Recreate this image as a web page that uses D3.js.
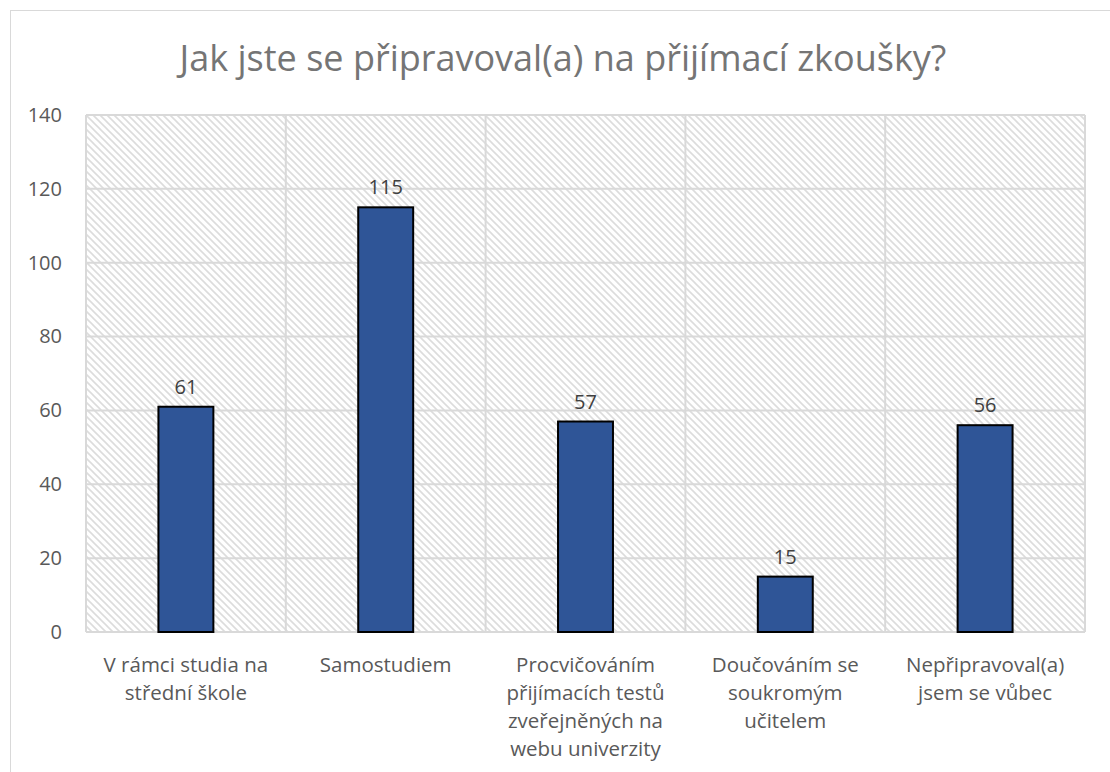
<!DOCTYPE html>
<html>
<head>
<meta charset="utf-8">
<script src="https://cdn.jsdelivr.net/npm/d3@7"></script>
<style>
  body { margin: 0; background: #fff; }
  svg { display: block; font-family: "Open Sans", sans-serif; }
</style>
</head>
<body>
<div id="chart"></div>
<script>
// data
const categories = [
  ["V rámci studia na", "střední škole"],
  ["Samostudiem"],
  ["Procvičováním", "přijímacích testů", "zveřejněných na", "webu univerzity"],
  ["Doučováním se", "soukromým", "učitelem"],
  ["Nepřipravoval(a)", "jsem se vůbec"]
];
const values = [61, 115, 57, 15, 56];
const yTicks = [0, 20, 40, 60, 80, 100, 120, 140];
const title = "Jak jste se připravoval(a) na přijímací zkoušky?";

const W = 1110, H = 772;
const margin = { top: 115, right: 25, bottom: 140, left: 86 },
      width = W - margin.left - margin.right,
      height = H - margin.top - margin.bottom;

const svg = d3.select("#chart").append("svg")
  .attr("width", W)
  .attr("height", H);

// hatch pattern
const defs = svg.append("defs");
defs.append("pattern")
  .attr("id", "hatch")
  .attr("patternUnits", "userSpaceOnUse")
  .attr("width", 7).attr("height", 7)
  .call(p => {
    p.append("rect").attr("width", 7).attr("height", 7).attr("fill", "#fff");
    p.append("path")
      .attr("d", "M-1,-1 L8,8 M-8,-1 L1,8 M6,-1 L15,8")
      .attr("stroke", "#dcdcdc")
      .attr("stroke-width", 1.6);
  });

// outer chart border
svg.append("rect")
  .attr("x", 10.5).attr("y", 10.5)
  .attr("width", W + 20).attr("height", H + 20)
  .attr("fill", "none")
  .attr("stroke", "#d9d9d9")
  .attr("stroke-width", 1);

const g = svg.append("g")
  .attr("transform", `translate(${margin.left},${margin.top})`);

const x = d3.scaleBand().domain(d3.range(categories.length)).range([0, width]);
const y = d3.scaleLinear().domain([0, 140]).range([height, 0]);

g.append("rect")
  .attr("width", width).attr("height", height)
  .attr("fill", "url(#hatch)");

// horizontal grid
g.append("g")
  .selectAll("line")
  .data(yTicks)
  .enter().append("line")
  .attr("x1", 0).attr("x2", width)
  .attr("y1", d => y(d)).attr("y2", d => y(d))
  .attr("stroke", "#d9d9d9")
  .attr("stroke-width", 2);

// vertical grid at category boundaries
g.append("g")
  .selectAll("line")
  .data(d3.range(categories.length + 1))
  .enter().append("line")
  .attr("x1", d => d * x.step()).attr("x2", d => d * x.step())
  .attr("y1", 0).attr("y2", height)
  .attr("stroke", "#d9d9d9")
  .attr("stroke-width", 2);

// y axis labels
const yAxis = g.append("g")
  .call(d3.axisLeft(y).tickValues(yTicks).tickSize(0).tickPadding(24));
yAxis.select(".domain").remove();
yAxis.selectAll("text")
  .style("font-size", "20px")
  .style("fill", "#595959")
  .style("font-family", "'Open Sans', sans-serif");

// bars
const barW = x.bandwidth() * 0.275;
g.selectAll("rect.bar")
  .data(values)
  .enter().append("rect")
  .attr("class", "bar")
  .attr("x", (d, i) => x(i) + x.bandwidth() / 2 - barW / 2)
  .attr("y", d => y(d))
  .attr("width", barW)
  .attr("height", d => height - y(d))
  .attr("fill", "#2f5597")
  .attr("stroke", "#000")
  .attr("stroke-width", 2);

// value labels
g.selectAll("text.val")
  .data(values)
  .enter().append("text")
  .attr("class", "val")
  .attr("x", (d, i) => x(i) + x.bandwidth() / 2)
  .attr("y", d => y(d) - 13)
  .attr("text-anchor", "middle")
  .style("font-size", "20px")
  .style("fill", "#404040")
  .text(d => d);

// category labels
const xLab = g.selectAll("text.cat")
  .data(categories)
  .enter().append("text")
  .attr("class", "cat")
  .attr("x", (d, i) => x(i) + x.bandwidth() / 2)
  .attr("y", height + 40)
  .attr("text-anchor", "middle")
  .style("font-size", "20.5px")
  .style("fill", "#595959");
xLab.each(function(d, i) {
  d3.select(this).selectAll("tspan")
    .data(d)
    .enter().append("tspan")
    .attr("x", x(i) + x.bandwidth() / 2)
    .attr("dy", (t, j) => j === 0 ? 0 : 28)
    .text(t => t);
});

// title
svg.append("text")
  .attr("x", 563)
  .attr("y", 71)
  .attr("text-anchor", "middle")
  .style("font-size", "36px")
  .style("fill", "#757575")
  .text(title);
</script>
</body>
</html>
